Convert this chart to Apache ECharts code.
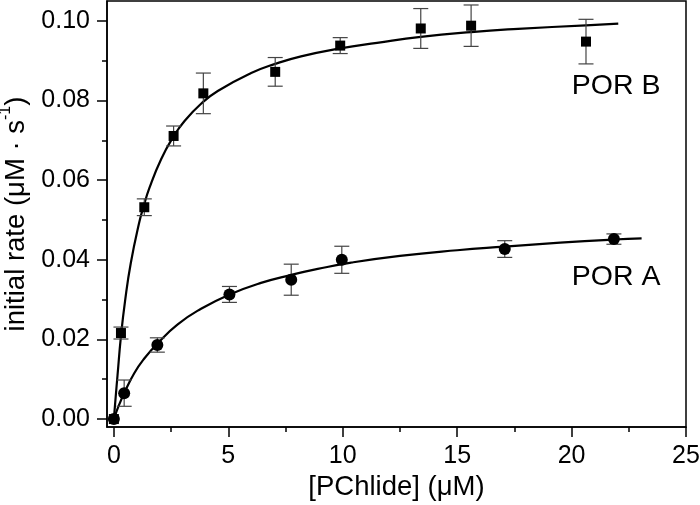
<!DOCTYPE html>
<html>
<head>
<meta charset="utf-8">
<script src="https://cdn.jsdelivr.net/npm/echarts@6/dist/echarts.min.js"></script>
<style>html,body{margin:0;padding:0;background:#fff}#c{width:700px;height:505px}</style>
</head>
<body>
<div id="c"></div>
<script>
// ---- data ----
// measured points: [PChlide µM, rate µM/s, error]
const porB = [[0,0,0],[0.31,0.0216,0.0015],[1.33,0.0532,0.0021],[2.61,0.0711,0.0025],[3.91,0.0818,0.0051],[7.05,0.0872,0.0036],[9.89,0.0938,0.0020],[13.41,0.0981,0.0050],[15.61,0.0988,0.0052],[20.63,0.0948,0.0056]];
const porA = [[0,0,0],[0.45,0.0065,0.0033],[1.90,0.0186,0.0018],[5.05,0.0313,0.0020],[7.75,0.0350,0.0039],[9.96,0.0400,0.0034],[17.08,0.0427,0.0021],[21.85,0.0452,0.0013]];
// fitted curves
const porBFit = [[0,0],[0.08,0.0056],[0.16,0.0110],[0.31,0.0208],[0.49,0.0297],[0.74,0.0392],[1.11,0.0494],[1.30,0.0534],[1.55,0.0580],[2.06,0.0652],[2.61,0.0710],[3.08,0.0748],[3.81,0.0792],[4.54,0.0824],[6.00,0.0869],[7.05,0.0892],[8.18,0.0911],[9.89,0.0931],[11.5,0.0945],[13.41,0.0960],[15.61,0.0972],[17.66,0.0980],[20.63,0.0989],[22.04,0.0993]];
const porAFit = [[0,0],[0.23,0.0036],[0.45,0.0065],[0.89,0.0115],[1.33,0.0152],[1.91,0.0190],[2.79,0.0238],[3.81,0.0277],[5.06,0.0313],[6.43,0.0342],[7.75,0.0362],[8.91,0.0377],[10.37,0.0393],[12.5,0.0410],[15.0,0.0424],[17.08,0.0433],[19.5,0.0443],[21.85,0.0451],[23.06,0.0454]];
// tick values
const xMajorTicks = [0,5,10,15,20,25];
const xMinorTicks = [2.5,7.5,12.5,17.5,22.5];
const yMajorTicks = [0,0.02,0.04,0.06,0.08,0.10];
const yMinorTicks = [0.01,0.03,0.05,0.07,0.09];
// series labels placed at data coordinates
const seriesLabels = [[21.95,0.0836,'POR B'],[21.95,0.0357,'POR A']];

const FONT = "'Liberation Sans', Arial, sans-serif";
const chart = echarts.init(document.getElementById('c'), null, {renderer:'canvas'});

function errRender(params, api){
  const x = api.value(0), y = api.value(1), e = api.value(2);
  if (!e) return null;
  const t = api.coord([x, y + e]), b = api.coord([x, y - e]);
  const w = 7.5, st = {stroke:'#444', lineWidth:1.2};
  return {type:'group', children:[
    {type:'line', shape:{x1:t[0], y1:t[1], x2:b[0], y2:b[1]}, style:st},
    {type:'line', shape:{x1:t[0]-w, y1:t[1], x2:t[0]+w, y2:t[1]}, style:st},
    {type:'line', shape:{x1:b[0]-w, y1:b[1], x2:b[0]+w, y2:b[1]}, style:st}
  ]};
}

const axisLineStyle = {show:true, onZero:false, lineStyle:{color:'#000', width:1.5}};
const option = {
  animation:false,
  backgroundColor:'#fff',
  grid:{left:107, right:14, top:1, bottom:78, show:true, borderColor:'#000', borderWidth:1.5, containLabel:false, outerBoundsMode:'none'},
  xAxis:[
    {type:'value', min:-0.3, max:25, position:'bottom',
     axisLine:axisLineStyle,
     axisTick:{show:true, inside:false, length:10, customValues:xMajorTicks, lineStyle:{color:'#000', width:1.5}},
     axisLabel:{show:true, customValues:xMajorTicks, margin:17, fontSize:25, color:'#000', fontFamily:FONT, formatter:v=>String(v)},
     splitLine:{show:false},
     name:'[PChlide] (μM)', nameLocation:'middle', nameGap:46,
     nameTextStyle:{fontSize:27.5, color:'#000', fontFamily:FONT}},
    {type:'value', min:-0.3, max:25, position:'bottom', offset:0,
     axisLine:{show:false, onZero:false},
     axisTick:{show:true, inside:false, length:5, customValues:xMinorTicks, lineStyle:{color:'#000', width:1.5}},
     axisLabel:{show:false}, splitLine:{show:false}}
  ],
  yAxis:[
    {type:'value', min:-0.002, max:0.105, position:'left',
     axisLine:axisLineStyle,
     axisTick:{show:true, inside:false, length:10, customValues:yMajorTicks, lineStyle:{color:'#000', width:1.5}},
     axisLabel:{show:true, customValues:yMajorTicks, margin:17, fontSize:25, color:'#000', fontFamily:FONT, formatter:v=>v.toFixed(2)},
     splitLine:{show:false},
     name:'{a|initial rate (μM · s}{s|-1}{a|)}', nameLocation:'middle', nameGap:77, nameRotate:90,
     nameTextStyle:{color:'#000', fontFamily:FONT, rich:{
       a:{fontSize:27.5, color:'#000', fontFamily:FONT, lineHeight:32, verticalAlign:'bottom'},
       s:{fontSize:16, color:'#000', fontFamily:FONT, lineHeight:32, verticalAlign:'top'}}}},
    {type:'value', min:-0.002, max:0.105, position:'left', offset:0,
     axisLine:{show:false, onZero:false},
     axisTick:{show:true, inside:false, length:5, customValues:yMinorTicks, lineStyle:{color:'#000', width:1.5}},
     axisLabel:{show:false}, splitLine:{show:false}}
  ],
  series:[
    {type:'line', data:porBFit, smooth:0.5, showSymbol:false, silent:true,
     lineStyle:{color:'#000', width:2.2}, z:2},
    {type:'line', data:porAFit, smooth:0.5, showSymbol:false, silent:true,
     lineStyle:{color:'#000', width:2.2}, z:2},
    {type:'custom', renderItem:errRender, data:porB, encode:{x:0, y:1}, z:3},
    {type:'custom', renderItem:errRender, data:porA, encode:{x:0, y:1}, z:3},
    {type:'scatter', data:porB.map(d=>[d[0], d[1]]), symbol:'rect', symbolSize:10, itemStyle:{color:'#000', opacity:1}, z:4},
    {type:'scatter', data:porA.map(d=>[d[0], d[1]]), symbol:'circle', symbolSize:12, itemStyle:{color:'#000', opacity:1}, z:4},
    {type:'scatter', data:seriesLabels, symbolSize:0, silent:true, z:5, itemStyle:{opacity:1},
     label:{show:true, position:'inside', formatter:p=>p.value[2], fontSize:28.5, color:'#000', opacity:1, fontFamily:FONT}}
  ]
};
chart.setOption(option);
</script>
</body>
</html>
